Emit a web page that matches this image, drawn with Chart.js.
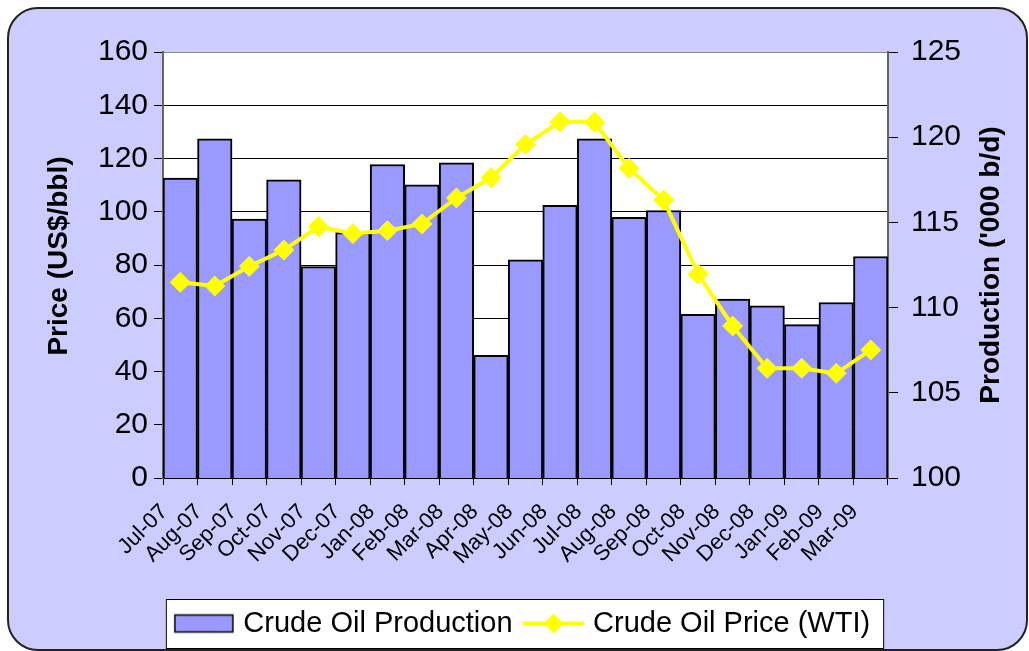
<!DOCTYPE html>
<html>
<head>
<meta charset="utf-8">
<script src="https://cdn.jsdelivr.net/npm/chart.js@4.4.0/dist/chart.umd.min.js"></script>
<style>
  html, body { margin: 0; padding: 0; background: #fff; }
  canvas { display: block; }
</style>
</head>
<body>
<canvas id="chart" width="1029" height="651"></canvas>
<script>
// Data
const months = ['Jul-07', 'Aug-07', 'Sep-07', 'Oct-07', 'Nov-07', 'Dec-07',
  'Jan-08', 'Feb-08', 'Mar-08', 'Apr-08', 'May-08', 'Jun-08', 'Jul-08', 'Aug-08',
  'Sep-08', 'Oct-08', 'Nov-08', 'Dec-08', 'Jan-09', 'Feb-09', 'Mar-09'];
const production = [117.6, 119.9, 115.2, 117.5, 112.4, 114.4, 118.4, 117.2, 118.5, 107.2,
  112.8, 116.0, 119.9, 115.3, 115.7, 109.6, 110.5, 110.1, 109.0, 110.3, 113.0];
const price = [73.5, 72.1, 79.5, 85.6, 94.4, 91.8, 92.9, 95.4, 105.2, 112.8,
  125.3, 133.8, 133.6, 116.3, 104.4, 76.6, 57.1, 41.2, 41.2, 39.3, 48.1];
const priceTicks = [0, 160, 20];      // min, max, step
const productionTicks = [100, 125, 5];
const seriesNames = ['Crude Oil Production', 'Crude Oil Price (WTI)'];
const axisTitles = ['Price (US$/bbl)', "Production ('000 b/d)"];

const FONT = "'Liberation Sans', Arial, sans-serif";
const TITLE_FONT = "'Liberation Sans', Arial, sans-serif";
const LAVENDER = '#CCCCFF';
const BAR_BLUE = '#9999FF';
const YELLOW = '#FFFF00';

// Legend icons drawn on small canvases
function makeIcon(drawFn) {
  const c = document.createElement('canvas');
  c.width = 64;
  c.height = 22;
  drawFn(c.getContext('2d'));
  return c;
}
const barIcon = makeIcon((ctx) => {
  ctx.fillStyle = BAR_BLUE;
  ctx.fillRect(3, 2.5, 58, 17);
  ctx.strokeStyle = '#000';
  ctx.lineWidth = 1.5;
  ctx.strokeRect(3, 2.5, 58, 17);
});
const lineIcon = makeIcon((ctx) => {
  ctx.strokeStyle = YELLOW;
  ctx.lineWidth = 4;
  ctx.beginPath();
  ctx.moveTo(1.5, 11);
  ctx.lineTo(62.5, 11);
  ctx.stroke();
  ctx.fillStyle = YELLOW;
  ctx.beginPath();
  ctx.moveTo(32, 1);
  ctx.lineTo(42, 11);
  ctx.lineTo(32, 21);
  ctx.lineTo(22, 11);
  ctx.closePath();
  ctx.fill();
});

function drawTitle(ctx, text, x, y) {
  ctx.save();
  ctx.translate(x, y);
  ctx.rotate(-Math.PI / 2);
  ctx.font = `bold 28px ${TITLE_FONT}`;
  ctx.fillStyle = '#000';
  ctx.textAlign = 'center';
  ctx.textBaseline = 'middle';
  ctx.fillText(text, 0, 0);
  ctx.restore();
}

// Lavender rounded panel, white plot area, framed legend, axis titles
const backdrop = {
  id: 'backdrop',
  beforeDraw(chart) {
    const { ctx, chartArea } = chart;
    ctx.save();
    ctx.fillStyle = '#fff';
    ctx.fillRect(0, 0, chart.width, chart.height);

    ctx.beginPath();
    ctx.roundRect(8, 8, 1019, 642, 30);
    ctx.fillStyle = LAVENDER;
    ctx.fill();
    ctx.lineWidth = 2;
    ctx.strokeStyle = '#222';
    ctx.stroke();

    ctx.fillStyle = '#fff';
    ctx.fillRect(chartArea.left, chartArea.top, chartArea.right - chartArea.left, chartArea.bottom - chartArea.top);

    const boxes = chart.legend && chart.legend.legendHitBoxes;
    if (boxes && boxes.length) {
      const left = Math.min(...boxes.map((b) => b.left)) - 13;
      const right = Math.max(...boxes.map((b) => b.left + b.width)) + 13;
      const top = Math.min(...boxes.map((b) => b.top)) - 10;
      const bottom = Math.max(...boxes.map((b) => b.top + b.height)) + 10;
      ctx.fillStyle = '#fff';
      ctx.fillRect(left, top, right - left, bottom - top);
      ctx.lineWidth = 1;
      ctx.strokeStyle = '#000';
      ctx.strokeRect(left + 0.5, top + 0.5, right - left, bottom - top);
    }
    ctx.restore();
  },
  afterDraw(chart) {
    // both axis titles read bottom-to-top
    const mid = (chart.chartArea.top + chart.chartArea.bottom) / 2;
    drawTitle(chart.ctx, axisTitles[0], 59, mid - 9);
    drawTitle(chart.ctx, axisTitles[1], 991, mid);
  },
};

new Chart(document.getElementById('chart'), {
  type: 'bar',
  data: {
    labels: months,
    datasets: [
      {
        type: 'bar',
        label: seriesNames[0],
        data: production,
        yAxisID: 'y1',
        backgroundColor: BAR_BLUE,
        borderColor: '#000',
        borderWidth: 2,
        categoryPercentage: 1,
        barPercentage: 1,
        order: 2,
      },
      {
        type: 'line',
        label: seriesNames[1],
        data: price,
        yAxisID: 'y',
        borderColor: YELLOW,
        backgroundColor: YELLOW,
        borderWidth: 4,
        tension: 0,
        pointStyle: 'rectRot',
        pointRadius: 10,
        pointBorderWidth: 1,
        pointBackgroundColor: YELLOW,
        pointBorderColor: YELLOW,
        order: 1,
      },
    ],
  },
  options: {
    responsive: false,
    animation: false,
    devicePixelRatio: 1,
    layout: { padding: { left: 20, right: 0, top: 52, bottom: 3 } },
    plugins: {
      tooltip: { enabled: false },
      legend: {
        position: 'bottom',
        labels: {
          usePointStyle: true,
          pointStyleWidth: 50,
          padding: 16,
          color: '#000',
          font: { family: FONT, size: 29 },
          generateLabels: (chart) => chart.data.datasets.map((ds, i) => ({
            text: ds.label,
            pointStyle: i === 0 ? barIcon : lineIcon,
            datasetIndex: i,
            fillStyle: ds.backgroundColor,
            strokeStyle: ds.borderColor,
            lineWidth: 0,
            hidden: false,
          })),
        },
      },
    },
    scales: {
      x: {
        offset: true,
        grid: { offset: true, drawOnChartArea: false, color: '#000', tickLength: 7 },
        border: { color: '#000', width: 2 },
        ticks: {
          color: '#000',
          font: { family: FONT, size: 22 },
          minRotation: 45,
          maxRotation: 45,
          autoSkip: false,
          padding: 14,
          labelOffset: -16,
        },
        afterFit: (scale) => { scale.height = 115; },
      },
      y: {
        position: 'left',
        min: priceTicks[0],
        max: priceTicks[1],
        ticks: { stepSize: priceTicks[2], color: '#000', font: { family: FONT, size: 30 }, padding: 6 },
        grid: {
          color: (c) => (c.tick && c.tick.value === priceTicks[1] ? '#888' : '#000'),
          tickColor: '#000',
          tickLength: 9,
        },
        border: { color: '#666', width: 2 },
        afterFit: (scale) => { scale.width = 143; },
      },
      y1: {
        position: 'right',
        min: productionTicks[0],
        max: productionTicks[1],
        ticks: { stepSize: productionTicks[2], color: '#000', font: { family: FONT, size: 30 }, padding: 13 },
        grid: { drawOnChartArea: false, color: '#000', tickLength: 10 },
        border: { color: '#666', width: 2 },
        afterFit: (scale) => { scale.width = 141; },
      },
    },
  },
  plugins: [backdrop],
});
</script>
</body>
</html>
